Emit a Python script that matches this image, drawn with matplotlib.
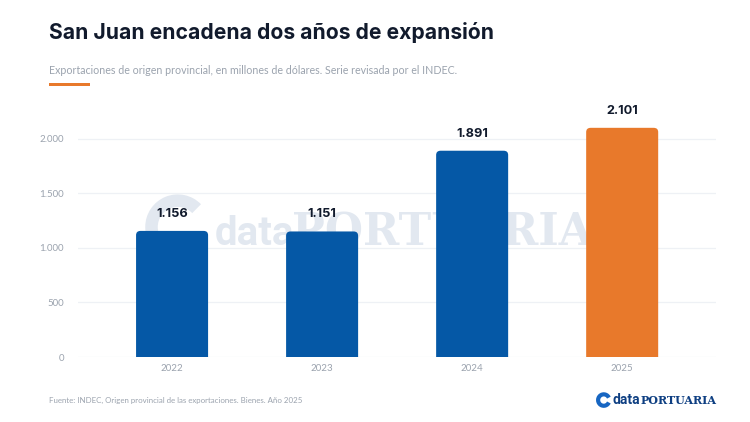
import matplotlib
matplotlib.use("Agg")
import matplotlib.pyplot as plt
from matplotlib.patches import FancyBboxPatch, Rectangle, Arc

# datos
years = ["2022", "2023", "2024", "2025"]
exports = [1156, 1151, 1891, 2101]
value_labels = ["1.156", "1.151", "1.891", "2.101"]
yticks = [0, 500, 1000, 1500, 2000]
ytick_labels = ["0", "500", "1.000", "1.500", "2.000"]

BLUE = "#0558a6"
ORANGE = "#e8792b"
NAVY = "#111a2c"
GRAY = "#9ba3ae"
GRID = "#eef1f5"

bar_colors = [BLUE, BLUE, BLUE, ORANGE]

fig = plt.figure(figsize=(7.5, 4.22), dpi=100)
fig.patch.set_facecolor("white")

ax = fig.add_axes([0.104, 0.154, 0.851, 0.5687])
ax.set_xlim(-0.627, 3.627)
ax.set_ylim(0, 2200)
for s in ax.spines.values():
    s.set_visible(False)
ax.set_yticks(yticks)
ax.set_yticklabels(ytick_labels)
ax.tick_params(axis="both", length=0, colors=GRAY, labelsize=7)
ax.tick_params(axis="y", pad=10)
ax.tick_params(axis="x", pad=5)
for lab in ax.get_yticklabels():
    lab.set_fontfamily("Lato")
for y in yticks:
    ax.axhline(y, color=GRID, lw=0.9, zorder=0)

# bars drawn by matplotlib, then replaced with rounded-top patches
bars = ax.bar(range(len(years)), exports, width=0.48, color=bar_colors, zorder=3)
ax.set_xticks(range(len(years)))
ax.set_xticklabels(years, fontfamily="Lato")
for b, c in zip(bars, bar_colors):
    b.set_visible(False)
    x0, w, h = b.get_x(), b.get_width(), b.get_height()
    rp = FancyBboxPatch((x0, -150), w, h + 150,
                        boxstyle="round,pad=0,rounding_size=0.03",
                        mutation_aspect=1300, facecolor=c, edgecolor="none",
                        zorder=3, clip_on=True)
    ax.add_patch(rp)

for i, (v, t) in enumerate(zip(exports, value_labels)):
    ax.annotate(t, (i, v), xytext=(0, 8), textcoords="offset points",
                ha="center", va="bottom", fontsize=9.2, fontweight="bold",
                color=NAVY, fontfamily="Inter", zorder=4)

# watermark
wm = "#e2e8f0"
ax.text(0.287, 0.419, "data", transform=fig.transFigure, fontsize=29,
        fontfamily="Roboto", fontweight="bold",
        color=wm, ha="left", va="baseline", zorder=1)
ax.text(0.39, 0.419, "PORTUARIA", transform=fig.transFigure, fontsize=31.5,
        fontfamily="DejaVu Serif", fontweight="bold", color=wm,
        ha="left", va="baseline", zorder=1)
arc = Arc((0.237, 0.462), 0.07, 0.125, theta1=60, theta2=300,
          transform=fig.transFigure, color=wm, lw=9, zorder=1)
ax.add_artist(arc)

# title block
fig.text(0.065, 0.922, "San Juan encadena dos años de expansión", fontsize=15.2,
         fontweight="bold", color=NAVY, fontfamily="Inter", ha="left", va="center")
fig.text(0.065, 0.834, "Exportaciones de origen provincial, en millones de dólares. Serie revisada por el INDEC.",
         fontsize=7.65, color=GRAY, fontfamily="Lato", ha="left", va="center")
fig.patches.append(Rectangle((0.065, 0.797), 0.055, 0.007, transform=fig.transFigure,
                             facecolor=ORANGE, edgecolor="none"))

# footer
fig.text(0.065, 0.052, "Fuente: INDEC, Origen provincial de las exportaciones. Bienes. Año 2025",
         fontsize=5.65, color=GRAY, fontfamily="Lato", ha="left", va="center")
logo = "#0e3f82"
fig.text(0.955, 0.052, "PORTUARIA", fontsize=8, fontweight="bold", color=logo,
         fontfamily="DejaVu Serif", ha="right", va="center")
fig.text(0.853, 0.052, "data", fontsize=10, fontweight="bold", color=logo,
         fontfamily="Roboto", ha="right", va="center")
fig.patches.append(Arc((0.805, 0.052), 0.015, 0.027, theta1=40, theta2=320,
                       transform=fig.transFigure, color="#1766c2", lw=3))

fig.savefig("out.png", dpi=100, facecolor="white")
